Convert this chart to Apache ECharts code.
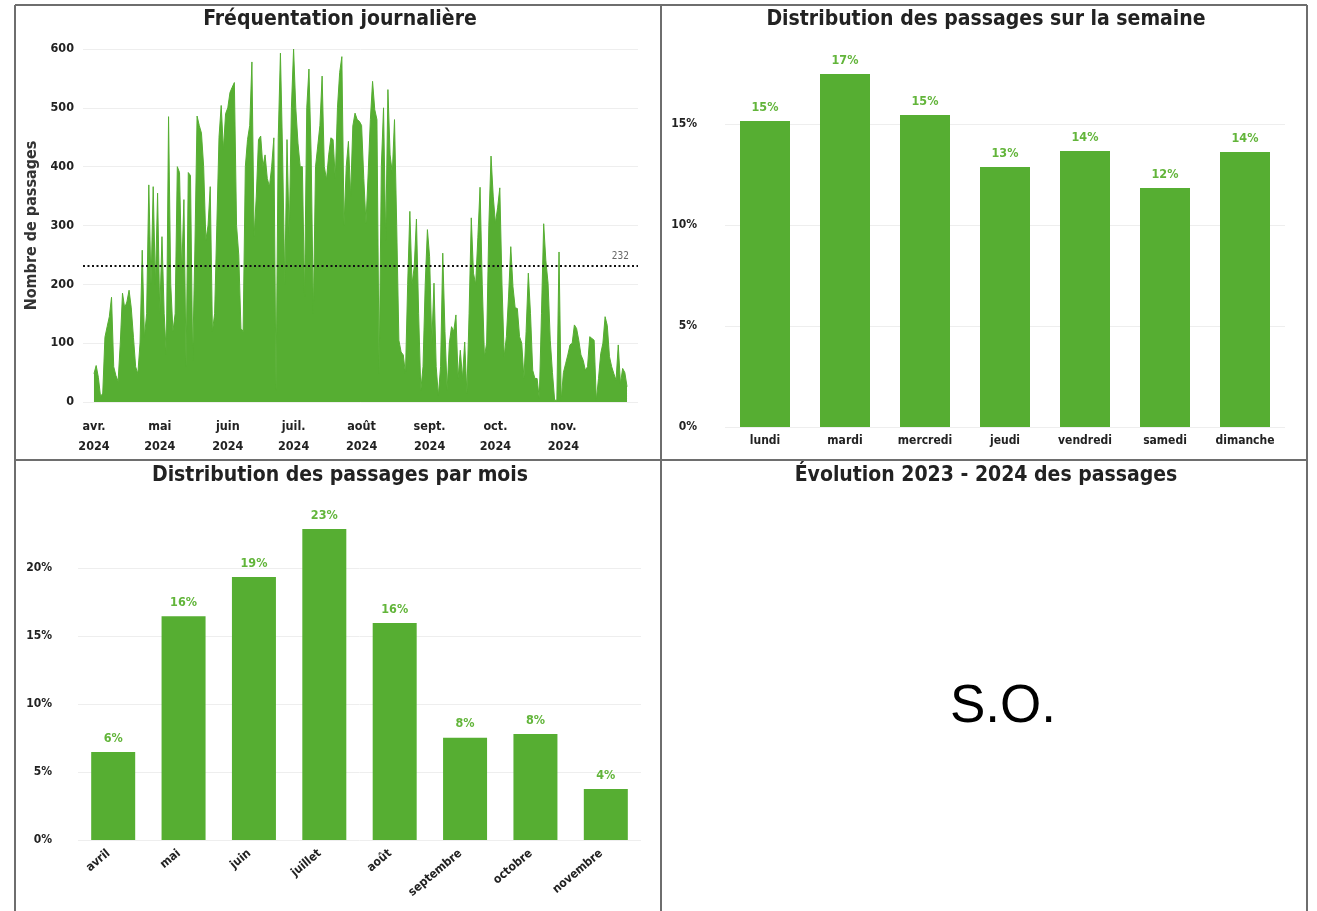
<!DOCTYPE html>
<html><head><meta charset="utf-8">
<script src="https://cdn.jsdelivr.net/npm/echarts@6/dist/echarts.min.js"></script>
<style>html,body{margin:0;padding:0;background:#fff}#c{width:1317px;height:911px}</style>
</head><body><div id="c"></div>
<script>
// ---- Daily visits (passages), 2024, one value per day ----
const april = [48, 62, 42, 9, 15, 110, 128, 145, 178, 60, 45, 35, 100, 185, 160, 170, 190, 160, 110, 60, 48, 100, 258, 110, 150, 369, 200, 366, 200, 355];
const may = [150, 281, 150, 80, 485, 200, 120, 150, 400, 390, 220, 344, 60, 390, 385, 70, 260, 486, 470, 457, 400, 275, 300, 366, 120, 150, 300, 450, 504, 429, 490];
const june = [500, 526, 535, 543, 300, 250, 125, 120, 400, 446, 470, 578, 281, 350, 446, 452, 400, 420, 380, 366, 400, 449, 20, 450, 593, 420, 200, 446, 280, 500];
const july = [600, 500, 440, 400, 400, 180, 500, 566, 420, 150, 400, 435, 470, 554, 400, 378, 420, 449, 446, 380, 500, 560, 587, 300, 400, 443, 350, 469, 491, 480, 477];
const august = [470, 380, 304, 389, 480, 545, 497, 480, 48, 400, 500, 275, 531, 420, 389, 480, 300, 105, 85, 80, 48, 200, 324, 200, 230, 311, 150, 20, 60, 200, 293];
const september = [247, 100, 202, 60, 11, 60, 253, 120, 20, 100, 128, 120, 148, 40, 88, 40, 102, 14, 150, 313, 219, 200, 280, 365, 200, 77, 100, 300, 418, 350];
const october = [304, 330, 364, 200, 77, 111, 180, 264, 196, 160, 159, 111, 100, 40, 120, 219, 150, 54, 40, 40, 6, 150, 303, 240, 202, 105, 50, 3, 3, 255, 3];
const november = [50, 65, 80, 97, 100, 131, 125, 105, 80, 71, 54, 60, 111, 108, 105, 3, 40, 82, 100, 145, 130, 77, 60, 48, 37, 97, 31, 57, 50, 26];
const dailyStart = [2024, 3, 1]; // 1 April 2024 (month index 3)
const dailyMean = 232;
const dailyTicks = [0, 100, 200, 300, 400, 500, 600];
const monthAbbr = ['janv.', 'févr.', 'mars', 'avr.', 'mai', 'juin', 'juil.', 'août', 'sept.', 'oct.', 'nov.', 'déc.'];

// ---- Weekly distribution (%) ----
const weekdays = ['lundi', 'mardi', 'mercredi', 'jeudi', 'vendredi', 'samedi', 'dimanche'];
const weekdayShare = [15.15, 17.48, 15.45, 12.87, 13.66, 11.83, 13.61];

// ---- Monthly distribution (%) ----
const monthNames = ['avril', 'mai', 'juin', 'juillet', 'août', 'septembre', 'octobre', 'novembre'];
const monthShare = [6.47, 16.45, 19.34, 22.87, 15.96, 7.52, 7.79, 3.75];

const panelTitles = ['Fréquentation journalière', 'Distribution des passages sur la semaine', 'Distribution des passages par mois', 'Évolution 2023 - 2024 des passages'];
const noDataText = 'S.O.';

// ---- build ----
const GREEN = '#56ae32';
const LABEL_GREEN = '#62b53a';
const FONT = "'DejaVu Sans Condensed','Liberation Sans Narrow','DejaVu Sans',sans-serif";
const daily = [].concat(april, may, june, july, august, september, october, november);
const PAD = 5;
const cats = [], vals = [];
for (let i = -PAD; i < daily.length + PAD; i++) {
  const d = new Date(Date.UTC(dailyStart[0], dailyStart[1], dailyStart[2] + i));
  cats.push(d.toISOString().slice(0, 10));
  vals.push(i >= 0 && i < daily.length ? daily[i] : null);
}
const isMonthStart = (idx) => idx >= PAD && idx < PAD + daily.length && cats[idx].slice(8) === '01';

const chart = echarts.init(document.getElementById('c'), null, {renderer: 'canvas'});
const axisLabelBase = {color: '#222', fontWeight: 'bold', fontFamily: FONT, fontSize: 12};
const splitLine = {show: true, showMaxLine: false, lineStyle: {color: '#eeeeee', width: 1}};

const border = {stroke: '#6e6e6e', lineWidth: 2};
const titleStyle = (t) => ({text: t, fill: '#222', font: 'bold 21px ' + FONT, align: 'center', verticalAlign: 'middle'});

chart.setOption({
  animation: false,
  backgroundColor: '#fff',
  grid: [
    {left: 83, right: 679, top: 49, bottom: 509},
    {left: 725, right: 32, top: 63.4, bottom: 484},
    {left: 78, right: 676, top: 513.6, bottom: 71}
  ],
  xAxis: [
    {gridIndex: 0, type: 'category', data: cats, boundaryGap: false,
     axisLine: {show: false}, axisTick: {show: false},
     axisLabel: Object.assign({}, axisLabelBase, {
       interval: (i) => isMonthStart(i), margin: 15, lineHeight: 20, fontSize: 12.5,
       formatter: (v) => monthAbbr[+v.slice(5, 7) - 1] + '\n' + v.slice(0, 4)
     })},
    {gridIndex: 1, type: 'category', data: weekdays,
     axisLine: {show: false}, axisTick: {show: false},
     axisLabel: Object.assign({}, axisLabelBase, {margin: 8, interval: 0})},
    {gridIndex: 2, type: 'category', data: monthNames,
     axisLine: {show: false}, axisTick: {show: false},
     axisLabel: Object.assign({}, axisLabelBase, {margin: 8, interval: 0, rotate: 40, padding: [0, 6, 0, 0]})}
  ],
  yAxis: [
    {gridIndex: 0, type: 'value', min: dailyTicks[0], max: dailyTicks[dailyTicks.length - 1], interval: 100,
     name: 'Nombre de passages', nameLocation: 'middle', nameGap: 43,
     nameTextStyle: {fontWeight: 'bold', fontFamily: FONT, fontSize: 16, color: '#333'},
     axisLine: {show: false}, axisTick: {show: false},
     axisLabel: Object.assign({}, axisLabelBase, {margin: 9, fontSize: 12.5}),
     splitLine: {show: true, lineStyle: {color: '#eeeeee'}}},
    {gridIndex: 1, type: 'value', min: 0, max: 18, interval: 5,
     axisLine: {show: false}, axisTick: {show: false},
     axisLabel: Object.assign({}, axisLabelBase, {margin: 28, showMaxLabel: false, formatter: (v) => v + '%'}),
     splitLine: splitLine},
    {gridIndex: 2, type: 'value', min: 0, max: 24, interval: 5,
     axisLine: {show: false}, axisTick: {show: false},
     axisLabel: Object.assign({}, axisLabelBase, {margin: 26, showMaxLabel: false, formatter: (v) => v + '%'}),
     splitLine: splitLine}
  ],
  series: [
    {type: 'line', xAxisIndex: 0, yAxisIndex: 0, data: vals, showSymbol: false, symbol: 'none',
     lineStyle: {color: GREEN, width: 1}, areaStyle: {color: GREEN, opacity: 1}, itemStyle: {color: GREEN},
     markLine: {silent: true, symbol: 'none', data: [{yAxis: dailyMean}],
       lineStyle: {color: '#111', type: [2, 2.5], width: 2.2},
       label: {position: 'insideEndTop', formatter: String(dailyMean), color: '#666', fontSize: 10, fontFamily: FONT, distance: 4, padding: [0, 5, 0, 0]}}},
    {type: 'bar', xAxisIndex: 1, yAxisIndex: 1, data: weekdayShare, barWidth: 50,
     itemStyle: {color: GREEN},
     label: {show: true, position: 'top', distance: 7, color: LABEL_GREEN, fontWeight: 'bold', fontFamily: FONT, fontSize: 12.5,
       formatter: (p) => Math.round(p.value) + '%'}},
    {type: 'bar', xAxisIndex: 2, yAxisIndex: 2, data: monthShare, barWidth: 44,
     itemStyle: {color: GREEN},
     label: {show: true, position: 'top', distance: 7, color: LABEL_GREEN, fontWeight: 'bold', fontFamily: FONT, fontSize: 12.5,
       formatter: (p) => Math.round(p.value) + '%'}}
  ],
  graphic: [
    {type: 'line', shape: {x1: 15, y1: 5, x2: 1307, y2: 5}, style: border},
    {type: 'line', shape: {x1: 15, y1: 5, x2: 15, y2: 911}, style: border},
    {type: 'line', shape: {x1: 661, y1: 5, x2: 661, y2: 911}, style: border},
    {type: 'line', shape: {x1: 1307, y1: 5, x2: 1307, y2: 911}, style: border},
    {type: 'line', shape: {x1: 15, y1: 460, x2: 1307, y2: 460}, style: border},
    {type: 'text', x: 340, y: 20, style: titleStyle(panelTitles[0])},
    {type: 'text', x: 986, y: 20, style: titleStyle(panelTitles[1])},
    {type: 'text', x: 340, y: 476, style: titleStyle(panelTitles[2])},
    {type: 'text', x: 986, y: 476, style: titleStyle(panelTitles[3])},
    {type: 'text', x: 1003, y: 707, style: {text: noDataText, fill: '#000', font: '53px "Liberation Sans", Arial, sans-serif', align: 'center', verticalAlign: 'middle'}}
  ]
});
</script></body></html>
